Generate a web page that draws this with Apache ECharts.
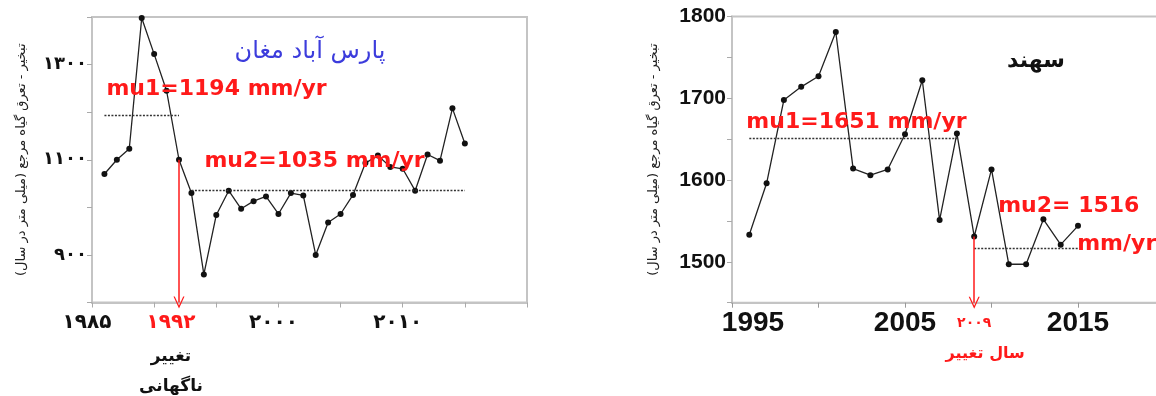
<!DOCTYPE html>
<html>
<head>
<meta charset="utf-8">
<script src="https://cdn.jsdelivr.net/npm/echarts@6/dist/echarts.min.js"></script>
<style>
  html, body { margin: 0; padding: 0; background: #fff; }
  #chart { width: 1156px; height: 396px; }
</style>
</head>
<body>
<div id="chart"></div>
<script>
// ---- Pars Abad Moghan: annual reference evapotranspiration (mm/yr) ----
const parsTitle = 'پارس آباد مغان';
const parsYears = [1986, 1987, 1988, 1989, 1990, 1991, 1992, 1993, 1994, 1995,
                   1996, 1997, 1998, 1999, 2000, 2001, 2002, 2003, 2004, 2005,
                   2006, 2007, 2008, 2009, 2010, 2011, 2012, 2013, 2014, 2015];
const parsValues = [1070, 1100, 1123, 1398, 1322, 1245, 1100, 1030, 859, 984,
                    1035, 997, 1013, 1023, 986, 1030, 1025, 900, 968, 986,
                    1026, 1093, 1109, 1085, 1081, 1035, 1111, 1098, 1208, 1134];
const parsBreakYear = 1992;
const parsMu1 = 1194;
const parsMu2 = 1035;
const parsSeg1 = [1986, 1992];
const parsSeg2 = [1993, 2015];
const parsYRange = [800, 1400];
const parsXRange = [1985, 2020];
const parsYLabels = [900, 1100, 1300];
const parsXLabels = [1985, 1992, 2000, 2010];

// ---- Sahand: annual reference evapotranspiration (mm/yr) ----
const sahandTitle = 'سهند';
const sahandYears = [1996, 1997, 1998, 1999, 2000, 2001, 2002, 2003, 2004, 2005,
                     2006, 2007, 2008, 2009, 2010, 2011, 2012, 2013, 2014, 2015];
const sahandValues = [1533, 1596, 1698, 1714, 1727, 1781, 1614, 1606, 1613, 1656,
                      1722, 1551, 1657, 1531, 1613, 1497, 1497, 1552, 1521, 1544];
const sahandBreakYear = 2009;
const sahandMu1 = 1651;
const sahandMu2 = 1516;
const sahandSeg1 = [1996, 2008];
const sahandSeg2 = [2009, 2015];
const sahandYRange = [1450, 1800];
const sahandXRange = [1995, 2020];
const sahandYLabels = [1500, 1600, 1700, 1800];
const sahandXLabels = [1995, 2005, 2009, 2015];

// ---- shared texts ----
const yAxisName = 'تبخیر - تعرق گیاه مرجع (میلی متر در سال)';
const changeWord = 'تغییر';
const suddenWord = 'ناگهانی';
const changeYearWord = 'سال تغییر';

// Persian digits for tick labels
const faDigits = '۰۱۲۳۴۵۶۷۸۹';
const toFa = n => String(n).replace(/[0-9]/g, d => faDigits[+d]);

const FA = 'DejaVu Sans';
const LAT = 'Liberation Sans';
const INK = '#111';
const RED = '#ff1a1a';
const FRAME = '#c4c4c4';
// open "V" arrow head at the end of the change-point arrows
const arrowHead = 'path://M0,12 L6,0 L12,12 L10.6,12 L6,3 L1.4,12 Z';

const muLine = { color: '#333', width: 1.3, type: [2, 1.5] };
const arrowLine = { color: RED, width: 1.5, type: 'solid' };
const muText = { color: RED, fontFamily: FA, fontWeight: 'bold', fontSize: 22 };

function valueAt(years, values, year) {
  return values[years.indexOf(year)];
}

const chart = echarts.init(document.getElementById('chart'), null, { renderer: 'canvas' });

const option = {
  animation: false,
  backgroundColor: '#fff',
  grid: [
    { left: 92, top: 17, width: 435, height: 285.5, show: true, borderColor: FRAME, borderWidth: 2,
      containLabel: false, outerBoundsMode: 'none' },
    { left: 732, top: 16.5, width: 432.5, height: 286.2, show: true, borderColor: FRAME, borderWidth: 2,
      containLabel: false, outerBoundsMode: 'none' }
  ],
  xAxis: [
    {
      gridIndex: 0, type: 'value', min: parsXRange[0], max: parsXRange[1], interval: 5,
      axisLine: { lineStyle: { color: FRAME, width: 2 } },
      axisTick: { show: true, length: 5, lineStyle: { color: '#aaa' } },
      splitLine: { show: false },
      axisLabel: {
        customValues: parsXLabels,
        margin: 8,
        formatter: v => v === parsBreakYear
          ? `{r|${toFa(v)}}\n{c|${changeWord}}\n{s|${suddenWord}}`
          : `{n|${toFa(v)}}`,
        rich: {
          n: { fontFamily: FA, fontWeight: 'bold', fontSize: 20, color: INK, lineHeight: 24, padding: [0, 10, 0, 0] },
          r: { fontFamily: FA, fontWeight: 'bold', fontSize: 20, color: RED, lineHeight: 24, padding: [0, 16, 0, 0] },
          c: { fontFamily: FA, fontWeight: 'bold', fontSize: 17, color: INK, lineHeight: 44, padding: [0, 16, 0, 0] },
          s: { fontFamily: FA, fontWeight: 'bold', fontSize: 17, color: INK, lineHeight: 16, padding: [0, 16, 0, 0] }
        }
      }
    },
    {
      gridIndex: 1, type: 'value', min: sahandXRange[0], max: sahandXRange[1], interval: 5,
      axisLine: { lineStyle: { color: FRAME, width: 2 } },
      axisTick: { show: true, length: 5, lineStyle: { color: '#999' } },
      splitLine: { show: false },
      axisLabel: {
        customValues: sahandXLabels,
        margin: 6,
        formatter: v => {
          if (v === sahandBreakYear) return `{rs|${toFa(v)}}\n{rb|${changeYearWord}}`;
          if (v === sahandXRange[0]) return `{f|${v}}`;
          return `{n|${v}}`;
        },
        rich: {
          n: { fontFamily: LAT, fontWeight: 'bold', fontSize: 28, color: INK, lineHeight: 30 },
          f: { fontFamily: LAT, fontWeight: 'bold', fontSize: 28, color: INK, lineHeight: 30, padding: [0, 0, 0, 42] },
          rs: { fontFamily: FA, fontWeight: 'bold', fontSize: 14, color: RED, lineHeight: 30 },
          rb: { fontFamily: FA, fontWeight: 'bold', fontSize: 16, color: RED, lineHeight: 30, padding: [0, 0, 0, 22] }
        }
      }
    }
  ],
  yAxis: [
    {
      gridIndex: 0, type: 'value', min: parsYRange[0], max: parsYRange[1], interval: 100,
      name: '\u200F' + yAxisName + '\u200F', nameLocation: 'middle', nameRotate: 90, nameGap: 64,
      nameTextStyle: { fontFamily: FA, fontSize: 13, color: '#222' },
      axisLine: { show: true, lineStyle: { color: FRAME, width: 2 } },
      axisTick: { show: true, length: 5, lineStyle: { color: '#aaa' } },
      splitLine: { show: false },
      axisLabel: {
        customValues: parsYLabels, margin: 5,
        formatter: v => toFa(v),
        fontFamily: FA, fontWeight: 'bold', fontSize: 18, color: INK
      }
    },
    {
      gridIndex: 1, type: 'value', min: sahandYRange[0], max: sahandYRange[1], interval: 50,
      name: '\u200F' + yAxisName + '\u200F', nameLocation: 'middle', nameRotate: 90, nameGap: 72,
      nameTextStyle: { fontFamily: FA, fontSize: 13, color: '#222' },
      axisLine: { show: true, lineStyle: { color: FRAME, width: 2 } },
      axisTick: { show: true, length: 5, lineStyle: { color: '#aaa' } },
      splitLine: { show: false },
      axisLabel: {
        customValues: sahandYLabels, margin: 6,
        formatter: v => String(v),
        fontFamily: LAT, fontWeight: 'bold', fontSize: 21, color: INK
      }
    }
  ],
  graphic: [
    { type: 'text', x: 310, y: 52, silent: true,
      style: { text: parsTitle, fill: '#3c3cdc', fontFamily: FA, fontSize: 24, align: 'center', verticalAlign: 'middle' } },
    { type: 'text', x: 1036, y: 61, silent: true,
      style: { text: sahandTitle, fill: INK, fontFamily: FA, fontWeight: 'bold', fontSize: 22, align: 'center', verticalAlign: 'middle' } }
  ],
  series: [
    {
      name: parsTitle, type: 'line', xAxisIndex: 0, yAxisIndex: 0,
      data: parsYears.map((y, i) => [y, parsValues[i]]),
      symbol: 'circle', symbolSize: 6,
      itemStyle: { color: '#111' },
      lineStyle: { color: '#222', width: 1.3 },
      markLine: {
        silent: true, animation: false, symbol: 'none',
        data: [
          [{ coord: [parsSeg1[0], parsMu1], lineStyle: muLine,
             label: Object.assign({ show: true, position: 'insideStartTop', distance: [2, 15],
                                    formatter: `mu1=${parsMu1} mm/yr` }, muText) },
           { coord: [parsSeg1[1], parsMu1] }],
          [{ coord: [parsSeg2[0], parsMu2], lineStyle: muLine,
             label: Object.assign({ show: true, position: 'insideStartTop', distance: [13, 18],
                                    formatter: `mu2=${parsMu2} mm/yr` }, muText) },
           { coord: [parsSeg2[1], parsMu2] }],
          [{ coord: [parsBreakYear, valueAt(parsYears, parsValues, parsBreakYear)], lineStyle: arrowLine,
             label: { show: false }, symbol: 'none' },
           { coord: [parsBreakYear, parsYRange[0]], symbol: arrowHead, symbolSize: [11, 12] }]
        ]
      }
    },
    {
      name: sahandTitle, type: 'line', xAxisIndex: 1, yAxisIndex: 1,
      data: sahandYears.map((y, i) => [y, sahandValues[i]]),
      symbol: 'circle', symbolSize: 6,
      itemStyle: { color: '#111' },
      lineStyle: { color: '#222', width: 1.3 },
      markLine: {
        silent: true, animation: false, symbol: 'none',
        data: [
          [{ coord: [sahandSeg1[0], sahandMu1], lineStyle: muLine,
             label: Object.assign({ show: true, position: 'insideStartTop', distance: [-3, 5],
                                    formatter: `mu1=${sahandMu1} mm/yr` }, muText) },
           { coord: [sahandSeg1[1], sahandMu1] }],
          [{ coord: [sahandSeg2[0], sahandMu2], lineStyle: muLine,
             label: { show: true, position: 'insideStartTop', distance: [24, -15],
                      formatter: `{a|mu2= ${sahandMu2}}\n{b|mm/yr}`,
                      rich: {
                        a: Object.assign({ lineHeight: 38 }, muText),
                        b: Object.assign({ lineHeight: 38, padding: [0, 0, 0, 79] }, muText)
                      } } },
           { coord: [sahandSeg2[1], sahandMu2] }],
          [{ coord: [sahandBreakYear, valueAt(sahandYears, sahandValues, sahandBreakYear)], lineStyle: arrowLine,
             label: { show: false }, symbol: 'none' },
           { coord: [sahandBreakYear, sahandYRange[0]], symbol: arrowHead, symbolSize: [11, 12] }]
        ]
      }
    }
  ]
};

chart.setOption(option);
</script>
</body>
</html>
